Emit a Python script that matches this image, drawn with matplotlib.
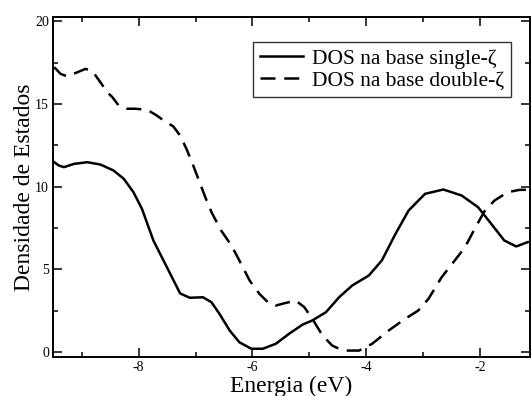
import matplotlib
matplotlib.use("Agg")
import matplotlib.pyplot as plt
from matplotlib.ticker import MultipleLocator

plt.rcParams["font.family"] = ["Liberation Serif", "DejaVu Serif"]
plt.rcParams["axes.unicode_minus"] = False

# DOS, single-zeta basis
e_single = [-9.48, -9.40, -9.31, -9.13, -8.90, -8.67, -8.44, -8.26, -8.09, -7.94,
            -7.74, -7.50, -7.27, -7.10, -6.87, -6.72, -6.58, -6.40, -6.23, -6.02,
            -5.82, -5.59, -5.36, -5.12, -4.95, -4.71, -4.48, -4.25, -3.96, -3.73,
            -3.49, -3.26, -2.97, -2.65, -2.33, -2.04, -1.81, -1.58, -1.37, -1.17]
dos_single = [11.48, 11.28, 11.18, 11.38, 11.48, 11.34, 10.98, 10.48, 9.67, 8.66,
              6.75, 5.12, 3.55, 3.29, 3.32, 3.02, 2.32, 1.31, 0.60, 0.21,
              0.21, 0.51, 1.11, 1.67, 1.92, 2.42, 3.32, 4.03, 4.63, 5.54,
              7.15, 8.56, 9.57, 9.83, 9.47, 8.76, 7.76, 6.75, 6.39, 6.65]

# DOS, double-zeta basis
e_double = [-9.48, -9.37, -9.25, -9.07, -8.93, -8.81, -8.67, -8.55, -8.46, -8.35,
            -8.20, -8.06, -7.85, -7.68, -7.56, -7.39, -7.27, -7.16, -7.04, -6.92,
            -6.82, -6.72, -6.55, -6.37, -6.23, -6.05, -5.88, -5.70, -5.59, -5.44,
            -5.24, -5.09, -4.95, -4.77, -4.60, -4.48, -4.37, -4.13, -3.90, -3.61,
            -3.32, -3.09, -2.91, -2.68, -2.45, -2.27, -2.10, -1.92, -1.75, -1.52,
            -1.31, -1.17]
dos_double = [17.22, 16.82, 16.66, 16.92, 17.12, 16.98, 16.31, 15.71, 15.41, 14.91,
              14.71, 14.71, 14.65, 14.30, 14.00, 13.64, 13.09, 12.29, 11.28, 10.19,
              9.29, 8.46, 7.35, 6.45, 5.54, 4.33, 3.53, 2.92, 2.82, 2.96,
              3.12, 2.72, 2.02, 1.01, 0.40, 0.21, 0.10, 0.10, 0.51, 1.31,
              2.02, 2.52, 3.23, 4.53, 5.54, 6.34, 7.46, 8.56, 9.17, 9.67,
              9.81, 9.81]

fig = plt.figure(figsize=(5.31, 3.96), dpi=100)
ax = fig.add_axes([0.1, 0.098, 0.898, 0.859])

ax.plot(e_single, dos_single, color="black", lw=1.8, label="DOS na base single-ζ")
ax.plot(e_double, dos_double, color="black", lw=1.8, dashes=(6, 3.5),
        label="DOS na base double-ζ")

ax.set_xlim(-9.5, -1.13)
ax.set_ylim(-0.3, 20.25)
ax.xaxis.set_major_locator(MultipleLocator(2))
ax.xaxis.set_minor_locator(MultipleLocator(1))
ax.yaxis.set_major_locator(MultipleLocator(5))
ax.yaxis.set_minor_locator(MultipleLocator(2.5))
ax.tick_params(which="both", direction="in", top=True, right=True, labelsize=10,
               width=1.1, pad=3)
ax.tick_params(which="major", length=6.5)
ax.tick_params(which="minor", length=3.6)
for s in ax.spines.values():
    s.set_linewidth(1.4)

ax.set_xlabel("Energia (eV)", fontsize=17, labelpad=1)
ax.set_ylabel("Densidade de Estados", fontsize=17, labelpad=0)

leg = ax.legend(loc="upper right", bbox_to_anchor=(0.96, 0.926), fontsize=15.5,
                frameon=True, fancybox=False, edgecolor="black", handlelength=2.0,
                borderpad=0.3, labelspacing=0.1, handletextpad=0.45, borderaxespad=0)
leg.get_frame().set_linewidth(1)

fig.savefig("out.png", dpi=100)
